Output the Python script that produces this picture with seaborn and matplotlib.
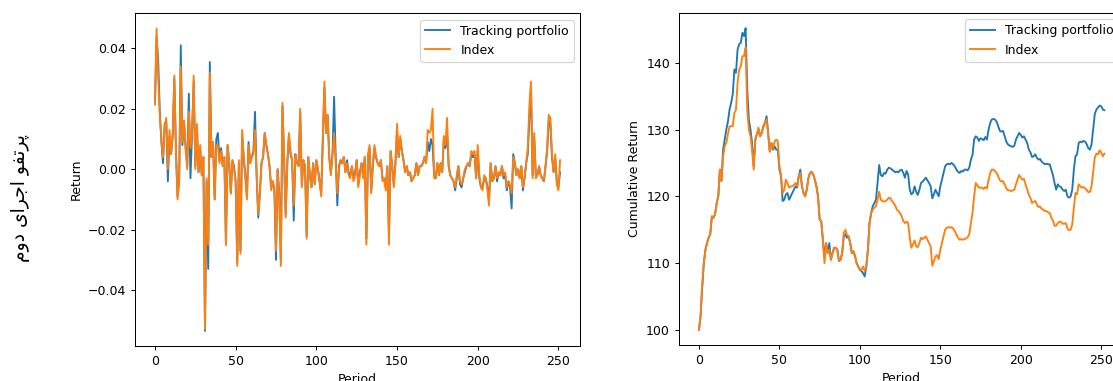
import matplotlib
matplotlib.use("Agg")
import matplotlib.pyplot as plt
import numpy as np
import pandas as pd
import seaborn as sns

# ---------------------------------------------------------------- data
series_names = ["Tracking portfolio", "Index"]
side_title = "پرتفو اجرای دوم"

index_returns = [
    0.0215, 0.0466, 0.030, 0.018, 0.010, 0.004, 0.014, 0.017, 0.000, 0.013,
    0.005, 0.012, 0.031, 0.006, -0.010, -0.004, 0.034, 0.009, 0.016, 0.007,
    0.000, 0.019, 0.007, 0.012, 0.031, 0.000, 0.015, -0.001, 0.008, -0.002,
    0.004, -0.053, -0.003, -0.025, 0.032, 0.004, 0.009, -0.010, 0.008, 0.008,
    0.002, 0.006, 0.001, 0.004, -0.025, 0.008, 0.002, -0.008, 0.003, 0.000,
    -0.004, -0.032, 0.003, -0.028, 0.013, 0.004, -0.003, -0.010, 0.008, 0.002,
    0.004, 0.005, 0.013, -0.002, -0.015, -0.008, 0.002, 0.004, 0.012, 0.008,
    0.005, 0.001, -0.007, -0.004, -0.006, -0.027, 0.000, -0.009, -0.032, 0.022,
    0.004, -0.016, 0.002, 0.012, 0.006, 0.003, -0.012, 0.005, 0.002, 0.001,
    0.020, -0.006, 0.003, 0.001, -0.023, 0.004, -0.002, -0.006, 0.002, -0.005,
    0.003, 0.000, -0.004, -0.009, 0.010, 0.029, 0.012, 0.018, 0.004, -0.002,
    0.005, 0.012, 0.002, -0.008, 0.000, 0.003, 0.002, 0.004, -0.001, 0.002,
    -0.002, -0.003, 0.001, -0.004, -0.002, 0.003, -0.006, -0.002, 0.002, -0.003,
    0.004, -0.025, 0.005, 0.008, -0.008, 0.001, 0.008, 0.004, 0.002, 0.001,
    0.003, -0.004, -0.003, -0.007, 0.001, -0.025, 0.006, 0.001, -0.006, 0.002,
    0.015, 0.004, 0.011, 0.006, 0.003, -0.001, 0.001, -0.002, -0.001, -0.004,
    -0.003, -0.002, 0.002, -0.002, 0.001, 0.001, 0.002, 0.004, 0.002, 0.013,
    0.012, 0.013, 0.020, -0.003, -0.003, 0.002, -0.002, 0.002, -0.001, 0.011,
    0.008, 0.017, 0.001, -0.002, -0.003, -0.004, -0.006, -0.002, 0.001, -0.004,
    -0.005, -0.003, 0.000, 0.001, 0.002, 0.001, 0.006, 0.005, 0.006, -0.003,
    0.008, -0.002, -0.006, -0.007, -0.002, -0.003, -0.007, -0.012, 0.002, -0.004,
    -0.003, 0.001, -0.003, -0.001, -0.002, 0.001, -0.002, -0.001, -0.006, -0.004,
    -0.005, -0.008, 0.004, 0.002, -0.002, 0.000, -0.003, 0.001, -0.006, -0.003,
    0.002, 0.007, 0.021, 0.029, -0.003, 0.012, -0.003, -0.002, 0.001, -0.002,
    -0.003, -0.004, 0.001, 0.007, 0.018, 0.017, 0.005, -0.001, 0.005, -0.005,
    -0.007, 0.003,
]

tracking_returns = [
    0.0215, 0.0440, 0.036, 0.019, 0.009, 0.002, 0.015, 0.016, -0.004, 0.011,
    0.005, 0.011, 0.030, 0.006, -0.009, -0.004, 0.041, 0.008, 0.016, 0.007,
    0.001, 0.025, -0.003, 0.012, 0.029, 0.001, 0.014, -0.001, 0.007, -0.002,
    0.004, -0.0535, -0.004, -0.033, 0.0355, 0.004, 0.009, -0.010, 0.010, 0.012,
    0.003, 0.007, 0.001, 0.004, -0.025, 0.008, 0.002, -0.008, 0.003, 0.001,
    -0.004, -0.031, 0.002, -0.027, 0.011, 0.004, -0.002, -0.009, 0.009, 0.002,
    0.004, 0.006, 0.019, -0.002, -0.016, -0.008, 0.002, 0.004, 0.012, 0.008,
    0.005, 0.001, -0.006, -0.004, -0.007, -0.030, 0.000, -0.008, -0.030, 0.021,
    0.004, -0.015, 0.002, 0.011, 0.005, 0.003, -0.017, 0.005, 0.002, 0.001,
    0.019, -0.005, 0.003, 0.001, -0.022, 0.004, -0.002, -0.006, 0.002, -0.005,
    0.003, 0.000, -0.004, -0.008, 0.010, 0.027, 0.012, 0.018, 0.004, -0.001,
    0.005, 0.024, 0.004, -0.012, 0.001, 0.003, 0.002, 0.004, -0.001, 0.003,
    -0.001, -0.002, 0.001, -0.003, -0.001, 0.003, -0.005, -0.001, 0.002, -0.002,
    0.004, -0.023, 0.004, 0.007, -0.007, 0.001, 0.007, 0.004, 0.002, 0.001,
    0.003, -0.003, -0.003, -0.006, 0.001, -0.022, 0.006, 0.001, -0.005, 0.002,
    0.013, 0.004, 0.010, 0.006, 0.003, -0.001, 0.001, -0.002, -0.001, -0.004,
    -0.003, -0.002, 0.002, -0.002, 0.001, 0.001, 0.002, 0.004, 0.002, 0.009,
    0.006, 0.010, 0.008, -0.002, -0.003, 0.002, -0.002, 0.002, -0.001, 0.010,
    0.007, 0.012, 0.001, -0.002, -0.003, -0.004, -0.007, -0.003, 0.001, -0.005,
    -0.006, -0.003, -0.001, 0.001, 0.002, 0.001, 0.005, 0.004, 0.005, -0.003,
    0.006, -0.003, -0.006, -0.006, -0.003, -0.003, -0.006, -0.010, 0.002, -0.004,
    -0.003, 0.001, -0.004, -0.001, -0.002, 0.001, -0.003, -0.002, -0.007, -0.004,
    -0.006, -0.013, 0.005, 0.002, -0.002, 0.000, -0.003, 0.001, -0.007, -0.003,
    0.002, 0.005, 0.017, 0.027, -0.002, 0.010, -0.002, -0.002, 0.001, -0.002,
    -0.003, -0.004, 0.001, 0.006, 0.016, 0.015, 0.004, -0.001, 0.004, -0.004,
    -0.006, -0.001,
]

tracking_cumulative = [
    100.0, 102.1, 106.2, 110.0, 112.0, 113.0, 113.8, 114.3, 117.0, 116.8,
    117.3, 119.0, 120.0, 124.0, 122.3, 127.0, 128.5, 130.0, 131.2, 133.0,
    134.0, 135.3, 139.0, 138.5, 142.0, 142.8, 143.0, 144.5, 144.0, 145.2,
    136.0, 131.5, 130.0, 128.0, 124.5, 128.5, 129.3, 130.0, 129.0, 129.5,
    130.5, 131.0, 132.0, 129.5, 126.7, 128.0, 127.0, 127.5, 127.0, 127.0,
    124.0, 123.0, 119.3, 119.5, 120.3, 120.5, 119.5, 120.0, 120.5, 121.0,
    121.5, 121.3, 123.0, 124.0, 121.5, 120.5, 120.0, 121.0, 122.7, 123.5,
    123.7, 123.3, 122.5, 121.5, 120.0, 116.5, 116.3, 113.5, 111.0, 113.0,
    111.5, 113.0, 110.5, 111.5, 112.3, 112.3, 112.0, 110.3, 110.5, 111.5,
    114.0, 114.3, 113.8, 114.0, 113.0, 111.5, 111.8, 111.0, 110.0, 109.5,
    109.0, 108.8, 108.5, 108.0, 109.5, 112.0, 116.0, 117.5, 118.5, 119.0,
    119.5, 122.0, 124.7, 123.2, 123.0, 123.5, 123.4, 124.0, 124.3, 124.2,
    124.0, 123.8, 123.6, 123.7, 123.6, 123.9, 124.0, 123.5, 122.8, 123.8,
    123.3, 121.0, 120.3, 120.5, 121.5, 120.7, 120.2, 121.0, 122.0, 122.2,
    122.5, 122.8, 122.4, 122.0, 121.5, 119.7, 120.3, 121.0, 120.5, 120.0,
    121.5, 122.5, 123.5, 124.5, 124.8, 124.9, 124.8, 125.0, 124.8, 124.5,
    124.0, 123.7, 123.5, 123.8, 123.7, 124.0, 124.0, 123.9, 124.3, 125.5,
    126.2, 128.5, 129.0, 128.8, 128.3, 128.7, 128.6, 128.4, 128.9, 128.5,
    130.0, 131.0, 131.5, 131.6, 131.5, 131.2, 130.5, 129.8, 129.7, 129.8,
    129.0, 128.2, 127.8, 127.6, 127.5, 127.4, 127.6, 128.5, 129.0, 129.5,
    129.2, 128.8, 129.0, 128.5, 128.0, 127.0, 126.6, 125.9, 126.0, 126.3,
    125.8, 125.5, 125.6, 125.2, 125.0, 124.8, 124.9, 124.8, 124.8, 124.0,
    123.2, 122.0, 121.0, 121.8, 121.5, 121.4, 121.0, 120.8, 121.0, 120.0,
    119.8, 120.0, 121.0, 124.0, 126.0, 126.3, 128.0, 128.2, 128.1, 128.3,
    128.2, 127.8, 127.2, 127.0, 127.8, 130.0, 132.3, 133.0, 133.3, 133.6,
    133.5, 133.0, 132.9,
]

index_cumulative = [
    100.0, 102.1, 106.8, 110.0, 112.0, 113.0, 113.8, 114.3, 117.0, 116.8,
    117.3, 119.0, 120.0, 124.0, 122.3, 126.0, 127.5, 128.0, 129.3, 130.5,
    130.5, 130.5, 132.5, 133.0, 137.0, 139.0, 139.5, 141.0, 141.0, 142.3,
    133.0, 130.0, 129.0, 127.0, 124.0, 128.5, 129.3, 130.3, 129.0, 129.5,
    130.3, 131.0, 131.5, 129.5, 126.7, 128.0, 127.2, 128.2, 128.5, 128.3,
    124.5, 123.0, 120.5, 121.0, 122.5, 122.0, 121.3, 121.5, 121.5, 121.7,
    122.0, 121.5, 123.0, 123.5, 121.5, 120.5, 120.0, 121.0, 122.7, 123.5,
    123.7, 123.3, 122.5, 121.5, 120.0, 116.5, 116.3, 113.5, 110.0, 113.0,
    111.5, 112.0, 110.5, 111.5, 112.3, 112.3, 112.0, 110.3, 110.5, 111.5,
    114.5, 115.0, 114.2, 114.0, 113.0, 111.5, 111.8, 111.0, 110.0, 109.5,
    109.0, 109.0, 109.5, 108.8, 109.5, 112.0, 116.0, 117.5, 118.0, 118.3,
    118.5, 119.5, 120.7, 119.5, 119.3, 119.2, 119.3, 119.5, 119.8, 119.7,
    119.3, 119.0, 118.6, 118.0, 117.8, 117.5, 117.0, 116.3, 116.0, 116.2,
    116.0, 113.8, 112.3, 112.8, 113.4, 112.5, 112.4, 113.0, 113.8, 113.6,
    113.8, 114.0, 113.5, 113.0, 112.5, 109.6, 110.3, 111.0, 111.2, 110.6,
    112.0, 113.0, 114.0, 115.0, 115.3, 115.4, 115.3, 115.4, 115.2, 114.8,
    114.3, 113.8, 113.5, 113.6, 113.5, 113.6, 113.7, 113.9, 114.3, 116.0,
    117.5, 120.0, 122.0, 121.7, 121.3, 121.3, 121.3, 121.1, 121.4, 121.2,
    122.5, 123.5, 124.0, 124.0, 123.8, 123.5, 123.0, 122.4, 122.2, 122.3,
    121.8, 121.2, 120.9, 120.9, 120.8, 120.9, 121.0, 121.8, 122.5, 123.2,
    122.8, 122.5, 122.6, 121.8, 121.0, 120.2, 119.8, 119.0, 119.2, 119.3,
    118.8, 118.4, 118.5, 118.1, 118.0, 117.8, 117.8, 117.6, 117.5, 116.8,
    116.4, 115.6, 115.6, 116.0, 116.2, 116.2, 115.9, 115.9, 116.0, 115.2,
    114.9, 115.0, 115.8, 118.3, 120.5, 120.3, 121.8, 121.5, 121.3, 121.4,
    121.2, 121.0, 120.6, 120.7, 121.5, 123.6, 125.8, 126.4, 126.3, 126.9,
    126.6, 126.0, 126.4,
]


# ---------------------------------------------------------------- helpers
# Contextual glyph forms (isolated, final, initial, medial) for the letters
# used in the side title; right-joining letters only have two forms.
_FORMS = {
    "پ": ("\uFB56", "\uFB57", "\uFB58", "\uFB59"),
    "ت": ("\uFE95", "\uFE96", "\uFE97", "\uFE98"),
    "ف": ("\uFED1", "\uFED2", "\uFED3", "\uFED4"),
    "ج": ("\uFE9D", "\uFE9E", "\uFE9F", "\uFEA0"),
    "ی": ("\uFBFC", "\uFBFD", "\uFBFE", "\uFBFF"),
    "م": ("\uFEE1", "\uFEE2", "\uFEE3", "\uFEE4"),
    "ر": ("\uFEAD", "\uFEAE"),
    "و": ("\uFEED", "\uFEEE"),
    "ا": ("\uFE8D", "\uFE8E"),
    "د": ("\uFEA9", "\uFEAA"),
}


def shape_rtl(text):
    """Join Persian letters into contextual forms and lay them out right to left."""
    out = []
    for i, ch in enumerate(text):
        forms = _FORMS.get(ch)
        if forms is None:
            out.append(ch)
            continue
        prev = text[i - 1] if i > 0 else ""
        nxt = text[i + 1] if i + 1 < len(text) else ""
        joins_prev = prev in _FORMS and len(_FORMS[prev]) == 4
        joins_next = len(forms) == 4 and nxt in _FORMS
        if joins_prev and joins_next:
            out.append(forms[3])
        elif joins_prev:
            out.append(forms[1])
        elif joins_next:
            out.append(forms[2])
        else:
            out.append(forms[0])
    return "".join(reversed(out))


# ---------------------------------------------------------------- figure
DPI = 90
W, H = 1113, 381
fig = plt.figure(figsize=(W / DPI, H / DPI), dpi=DPI)
fig.patch.set_facecolor("white")

ax_ret = fig.add_axes([134.7 / W, 35.0 / H, 445.6 / W, 332.7 / H])
ax_cum = fig.add_axes([678.7 / W, 36.0 / H, 446.0 / W, 332.0 / H])

colors = ["#1f77b4", "#ff7f0e"]

ret_period = np.arange(len(index_returns))
cum_period = np.arange(len(index_cumulative))

returns_df = pd.DataFrame({
    "Period": np.concatenate([ret_period, ret_period]),
    "Return": np.concatenate([tracking_returns, index_returns]),
    "Series": [series_names[0]] * len(ret_period) + [series_names[1]] * len(ret_period),
})
cumulative_df = pd.DataFrame({
    "Period": np.concatenate([cum_period, cum_period]),
    "Cumulative Return": np.concatenate([tracking_cumulative, index_cumulative]),
    "Series": [series_names[0]] * len(cum_period) + [series_names[1]] * len(cum_period),
})

sns.lineplot(data=returns_df, x="Period", y="Return", hue="Series",
             hue_order=series_names, palette=colors, linewidth=1.5, ax=ax_ret)
sns.lineplot(data=cumulative_df, x="Period", y="Cumulative Return", hue="Series",
             hue_order=series_names, palette=colors, linewidth=1.5, ax=ax_cum)

for ax in (ax_ret, ax_cum):
    ax.legend(loc="upper right", fontsize=10, title=None)
    ax.set_xlabel("Period", fontsize=10)
    ax.tick_params(labelsize=10)
    ax.set_xticks([0, 50, 100, 150, 200, 250])

ax_ret.set_ylabel("Return", fontsize=10)
ax_cum.set_ylabel("Cumulative Return", fontsize=10)
ax_cum.set_yticks([100, 110, 120, 130, 140])

fig.text(21 / W, 1 - 198 / H, shape_rtl(side_title), rotation=90,
         ha="center", va="center", fontsize=15, family="DejaVu Sans")

fig.savefig("out.png", dpi=DPI)
